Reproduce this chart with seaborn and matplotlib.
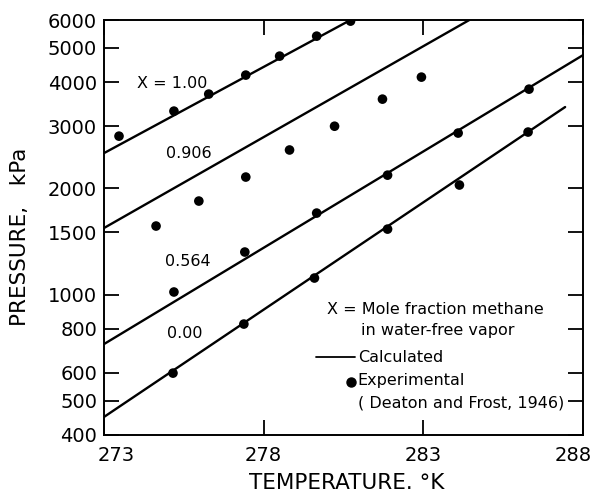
import numpy as np
import pandas as pd
import matplotlib
matplotlib.use("Agg")
import matplotlib.pyplot as plt
import matplotlib.transforms as mtrans
import seaborn as sns
from matplotlib.lines import Line2D
from matplotlib.ticker import FixedLocator, FixedFormatter, NullLocator

# ---- data ----
series_labels = ["1.00", "0.906", "0.564", "0.00"]

# calculated lines (end points)
calc_T_100 = [273.0, 280.72]
calc_P_100 = [2517, 6000]
calc_T_906 = [273.0, 284.44]
calc_P_906 = [1544, 6000]
calc_T_564 = [273.0, 288.0]
calc_P_564 = [724, 4771]
calc_T_000 = [273.0, 287.44]
calc_P_000 = [450, 3400]

# experimental points
exp_T_100 = [273.47, 275.19, 276.28, 277.44, 278.50, 279.66, 280.72]
exp_P_100 = [2812, 3311, 3700, 4188, 4740, 5400, 5956]
exp_T_906 = [274.63, 275.97, 277.44, 278.81, 280.22, 281.72, 282.94]
exp_P_906 = [1564, 1841, 2153, 2569, 3000, 3580, 4133]
exp_T_564 = [275.19, 277.41, 279.66, 281.88, 284.09, 286.31]
exp_P_564 = [1017, 1320, 1702, 2180, 2869, 3821]
exp_T_000 = [275.16, 277.38, 279.59, 281.88, 284.13, 286.28]
exp_P_000 = [599, 825, 1114, 1533, 2044, 2888]

y_ticks = [400, 500, 600, 800, 1000, 1500, 2000, 3000, 4000, 5000, 6000]
x_ticks = [273, 278, 283, 288]

calc = pd.concat([
    pd.DataFrame({"T": calc_T_100, "P": calc_P_100, "X": "1.00"}),
    pd.DataFrame({"T": calc_T_906, "P": calc_P_906, "X": "0.906"}),
    pd.DataFrame({"T": calc_T_564, "P": calc_P_564, "X": "0.564"}),
    pd.DataFrame({"T": calc_T_000, "P": calc_P_000, "X": "0.00"}),
])
exp = pd.concat([
    pd.DataFrame({"T": exp_T_100, "P": exp_P_100, "X": "1.00"}),
    pd.DataFrame({"T": exp_T_906, "P": exp_P_906, "X": "0.906"}),
    pd.DataFrame({"T": exp_T_564, "P": exp_P_564, "X": "0.564"}),
    pd.DataFrame({"T": exp_T_000, "P": exp_P_000, "X": "0.00"}),
])

sns.set_style("ticks")
plt.rcParams["font.family"] = ["DejaVu Sans"]
plt.rcParams["text.color"] = "black"
plt.rcParams["axes.labelcolor"] = "black"
plt.rcParams["xtick.color"] = "black"
plt.rcParams["ytick.color"] = "black"
plt.rcParams["axes.edgecolor"] = "black"

fig = plt.figure(figsize=(5.96, 4.92), dpi=100)
ax = fig.add_axes([104 / 596, 1 - 435 / 492, (583 - 104) / 596, (435 - 20) / 492])

pal = {k: "black" for k in series_labels}
sns.lineplot(data=calc, x="T", y="P", hue="X", palette=pal, units="X",
             estimator=None, linewidth=1.7, legend=False, ax=ax, sort=False)
sns.scatterplot(data=exp, x="T", y="P", hue="X", palette=pal, s=48,
                edgecolor="black", linewidth=0, legend=False, ax=ax, zorder=3)

ax.set_yscale("log")
ax.set_xlim(273, 288)
ax.set_ylim(400, 6000)
ax.yaxis.set_major_locator(FixedLocator(y_ticks))
ax.yaxis.set_major_formatter(FixedFormatter([str(v) for v in y_ticks]))
ax.yaxis.set_minor_locator(NullLocator())
ax.xaxis.set_major_locator(FixedLocator(x_ticks))
ax.xaxis.set_major_formatter(FixedFormatter([str(v) for v in x_ticks]))

for s in ax.spines.values():
    s.set_visible(True)
    s.set_linewidth(1.4)
    s.set_color("black")
ax.tick_params(axis="both", which="major", direction="in", length=11, width=1.3,
               top=True, right=True, labelsize=14, pad=5, color="black",
               labelcolor="black")
ax.tick_params(axis="x", pad=8)

# nudge end x tick labels like the reference
fig.canvas.draw()
xlabels = ax.get_xticklabels()
xlabels[0].set_transform(xlabels[0].get_transform() +
                         mtrans.ScaledTranslation(12 / 100, 0, fig.dpi_scale_trans))
xlabels[-1].set_transform(xlabels[-1].get_transform() +
                          mtrans.ScaledTranslation(-10 / 100, 0, fig.dpi_scale_trans))

ax.set_xlabel("TEMPERATURE. °K", fontsize=15.5, va="center", color="black")
ax.set_ylabel("PRESSURE,   kPa", fontsize=15.5, va="center", color="black")
ax.xaxis.set_label_coords((347 - 104) / 479, (435 - 483) / 415)
ax.yaxis.set_label_coords((20 - 104) / 479, (435 - 237) / 415)

# curve labels
lab_kw = dict(fontsize=11.5, ha="left", va="center", transform=ax.transAxes, color="black")
ax.text((137 - 104) / 479, (435 - 83) / 415, "X = 1.00", **lab_kw)
ax.text((166 - 104) / 479, (435 - 154) / 415, "0.906", **lab_kw)
ax.text((165 - 104) / 479, (435 - 262) / 415, "0.564", **lab_kw)
ax.text((167 - 104) / 479, (435 - 333) / 415, "0.00", **lab_kw)

# legend block
def fx(px):
    return px / 596

def fy(py):
    return 1 - py / 492

tk = dict(fontsize=11.5, ha="left", va="center", color="black")
fig.text(fx(327), fy(310), "X = Mole fraction methane", **tk)
fig.text(fx(361), fy(330), "in water-free vapor", **tk)
fig.add_artist(Line2D([fx(316), fx(355)], [fy(357), fy(357)], color="black", lw=1.3))
fig.text(fx(358), fy(357), "Calculated", **tk)
fig.add_artist(Line2D([fx(351)], [fy(382)], marker="o", color="black", markersize=6.5, lw=0))
fig.text(fx(357), fy(381), "Experimental", **tk)
fig.text(fx(358), fy(403), "( Deaton and Frost, 1946)", **tk)

fig.savefig("out.png", dpi=100)
